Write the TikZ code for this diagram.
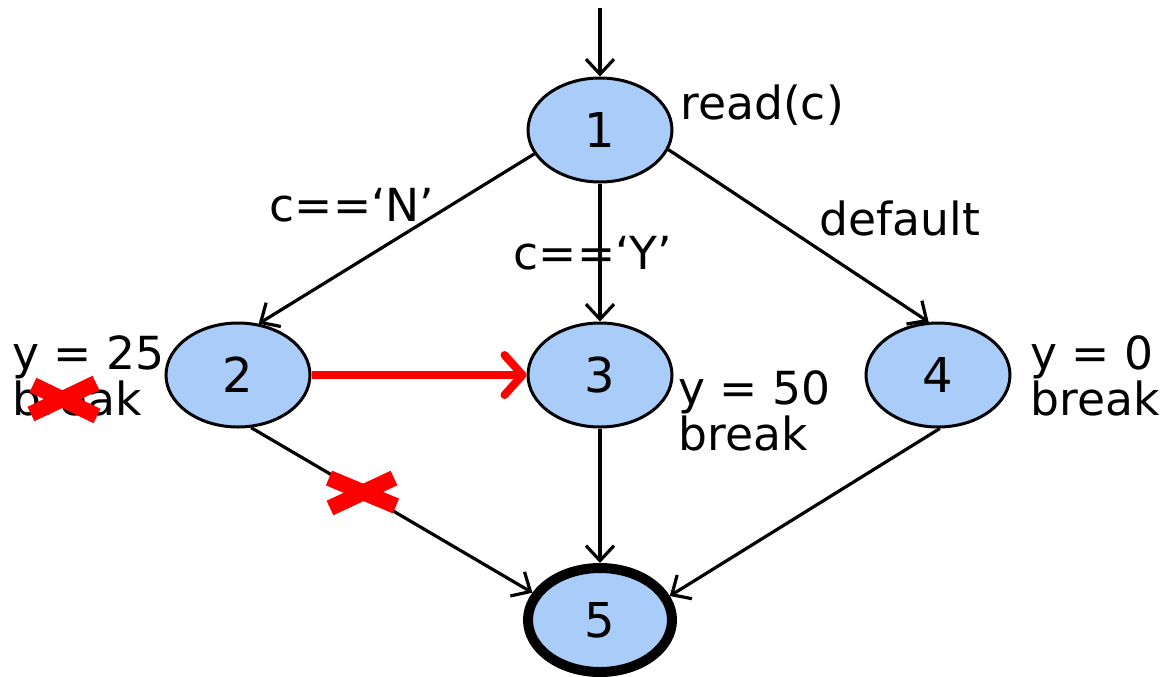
\documentclass[tikz,border=0pt]{standalone}
\usepackage{fontspec}
\setmainfont{DejaVu Sans}
\usetikzlibrary{arrows.meta,shapes.geometric}
\definecolor{nodeblue}{RGB}{170,204,248}
\definecolor{xred}{RGB}{255,0,0}
\tikzset{
  state/.style={ellipse,draw=black,line width=1.5pt,fill=nodeblue,minimum width=72pt,minimum height=52pt,inner sep=0pt,font=\fontsize{24}{28}\selectfont},
  finalstate/.style={state,line width=5pt},
  edge/.style={line width=1.6pt,-{Straight Barb[length=7.5pt,width=14pt,line width=1.6pt]}},
  rededge/.style={draw=xred,line width=4pt,-{Straight Barb[length=9pt,width=20pt,line width=4pt,round]}},
  lbl/.style={inner sep=0pt,font=\fontsize{22.8}{22.8}\selectfont,align=left},
  cross/.style={draw=xred,line width=8pt}
}
\begin{document}
\begin{tikzpicture}[x=0.5pt,y=-0.5pt]
\useasboundingbox (0,0) rectangle (1174,676);
\node[state] (n1) at (600,130) {1};
\node[state] (n2) at (238,375) {2};
\node[state] (n3) at (600,375) {3};
\node[state] (n4) at (938,375) {4};
\node[finalstate] (n5) at (600,620) {5};
\coordinate (entry) at (600,8);
\draw[edge] (entry) -- (n1);
\draw[edge] (n1.200) -- (n2.68);
\draw[edge] (n1) -- (n3);
\draw[edge] (n1.-16) -- (n4.100);
\draw[rededge] (n2) -- (n3);
\draw[edge] (n2.-76) -- (n5.158);
\draw[edge] (n3) -- (n5);
\draw[edge] (n4.-88) -- (n5.19);
\node[lbl,anchor=west] (l1) at (680,105) {read(c)};
\node[lbl] (lN) at (352,205) {c==‘N’};
\node[lbl] (lY) at (593,253) {c==‘Y’};
\node[lbl] (ld) at (900,218) {default};
\node[lbl,anchor=west] (l2) at (12,376) {y = 25\\break};
\node[lbl,anchor=west] (l3) at (678,411) {y = 50\\break};
\node[lbl,anchor=west] (l4) at (1030,376) {y = 0\\break};
\coordinate (c1a) at (33,385);
\coordinate (c1b) at (97,416);
\coordinate (c1c) at (31,414);
\coordinate (c1d) at (96,383);
\draw[cross] (c1a) -- (c1b);
\draw[cross] (c1c) -- (c1d);
\coordinate (c2a) at (329,478);
\coordinate (c2b) at (396,506);
\coordinate (c2c) at (330,508);
\coordinate (c2d) at (394,478);
\draw[cross] (c2a) -- (c2b);
\draw[cross] (c2c) -- (c2d);
\end{tikzpicture}
\end{document}
